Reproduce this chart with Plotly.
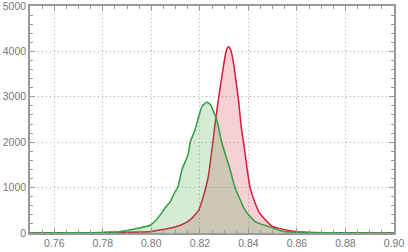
import plotly.graph_objects as go

red_x = [0.750, 0.770, 0.785, 0.795, 0.800, 0.805, 0.808, 0.812, 0.816, 0.8195, 0.8215,
         0.8235, 0.825, 0.8265, 0.8278, 0.8295, 0.8308, 0.8318, 0.8328, 0.834, 0.835, 0.836,
         0.837, 0.838, 0.8395, 0.8407, 0.8425, 0.8445, 0.847, 0.8497, 0.8543, 0.860, 0.870,
         0.880, 0.900]
red_y = [0, 3, 10, 22, 35, 80, 110, 170, 290, 500, 820,
         1250, 1850, 2500, 3000, 3600, 4000, 4100, 4020, 3700, 3300, 2900,
         2350, 2000, 1400, 1000, 700, 450, 290, 150, 80, 30, 8,
         3, 0]

green_x = [0.750, 0.765, 0.775, 0.783, 0.787, 0.791, 0.795, 0.7995, 0.802, 0.804, 0.806,
           0.8077, 0.8095, 0.811, 0.8126, 0.8153, 0.816, 0.818, 0.8195, 0.821, 0.8229,
           0.8245, 0.826, 0.827, 0.829, 0.8325, 0.8345, 0.8386, 0.8427, 0.845, 0.849,
           0.854, 0.860, 0.870, 0.900]
green_y = [0, 3, 8, 20, 30, 66, 110, 170, 286, 420, 580,
           680, 880, 1020, 1388, 1755, 2000, 2270, 2560, 2800, 2880,
           2820, 2620, 2489, 2000, 1388, 1000, 506, 250, 200, 130,
           40, 15, 5, 0]

x_ticks = [0.76, 0.78, 0.80, 0.82, 0.84, 0.86, 0.88, 0.90]
y_ticks = [0, 1000, 2000, 3000, 4000, 5000]

fig = go.Figure()
fig.add_trace(go.Scatter(x=red_x, y=red_y, mode="lines", fill="tozeroy",
                         line=dict(color="#d81b35", width=1.5, shape="spline", smoothing=0.5),
                         fillcolor="rgba(220,40,70,0.22)"))
fig.add_trace(go.Scatter(x=green_x, y=green_y, mode="lines", fill="tozeroy",
                         line=dict(color="#2e9e3e", width=1.5, shape="spline", smoothing=0.5),
                         fillcolor="rgba(60,170,70,0.22)"))

axis_common = dict(showline=True, linecolor="#999999", linewidth=1.5, mirror="ticks",
                   ticks="inside", ticklen=5, tickcolor="#999999",
                   showgrid=True, gridcolor="#aaaaaa", griddash="1px,3px", gridwidth=1,
                   zeroline=False, automargin=False, ticklabeloverflow="allow",
                   tickfont=dict(family="Liberation Sans", size=10.5, color="#777777"))

fig.update_layout(
    width=408, height=252, margin=dict(l=30, r=14, t=6, b=19),
    paper_bgcolor="white", plot_bgcolor="white", showlegend=False,
    xaxis=dict(range=[0.75, 0.90], tickvals=x_ticks, ticktext=[f"{v:.2f}" for v in x_ticks],
               minor=dict(dtick=0.005, ticks="inside", ticklen=3, tickcolor="#999999", showgrid=False),
               **axis_common),
    yaxis=dict(range=[0, 5000], tickvals=y_ticks, ticktext=[str(v) for v in y_ticks],
               minor=dict(dtick=200, ticks="inside", ticklen=3, tickcolor="#999999", showgrid=False),
               **axis_common),
)
fig.write_html("out.html", config={"displayModeBar": False},
               post_script="document.body.style.margin='0';document.body.style.overflow='hidden';")
